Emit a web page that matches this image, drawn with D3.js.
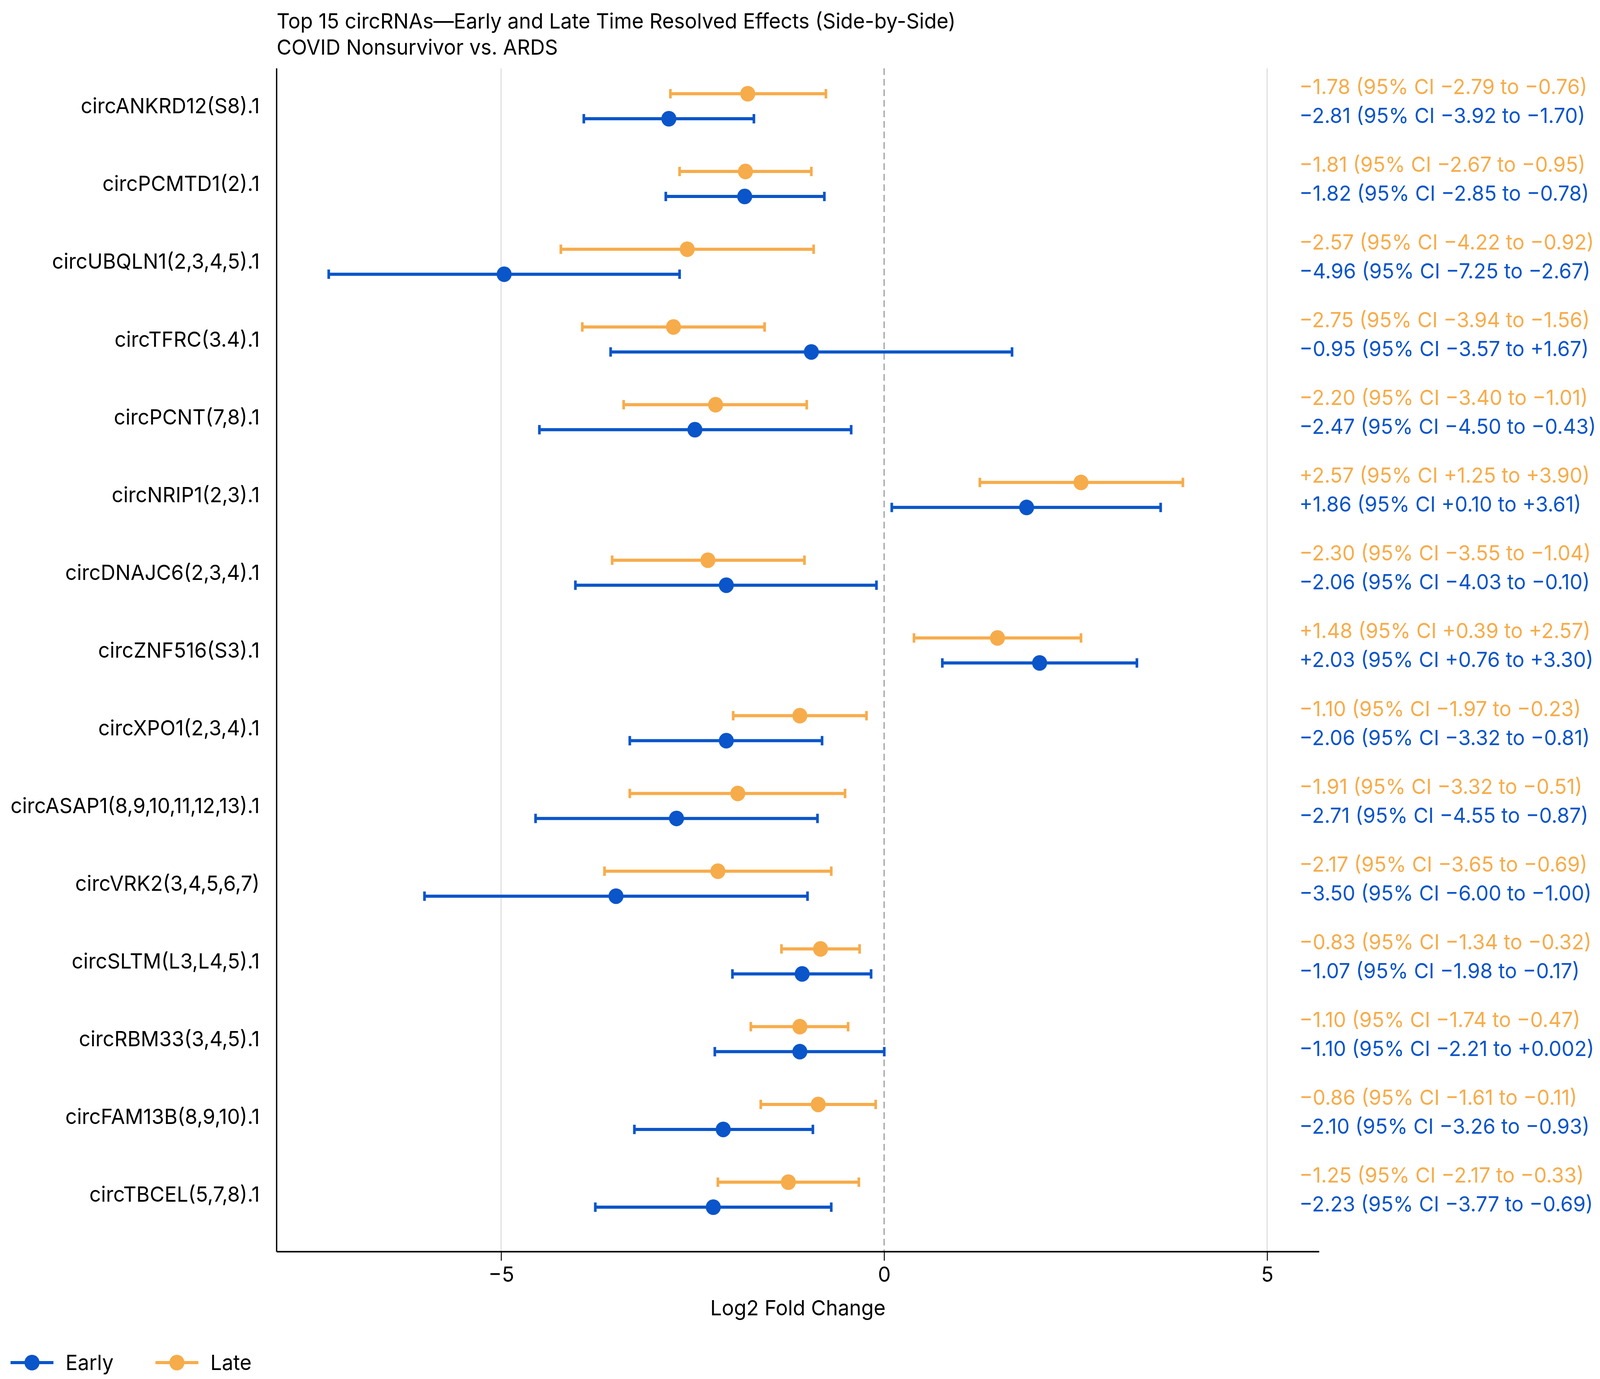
<!DOCTYPE html>
<html>
<head>
<meta charset="utf-8">
<script src="https://cdn.jsdelivr.net/npm/d3@7"></script>
<style>
  html, body { margin: 0; padding: 0; background: #fff; overflow: hidden; }
  svg { display: block; }
  text { font-family: Inter, "Liberation Sans", Arial, sans-serif; }
</style>
</head>
<body>
<div class="chart"></div>
<script>
var svgWidth = 4251;
var svgHeight = 3531;

var margin = { top: 175, right: 746, bottom: 326, left: 735 };
var chartWidth = svgWidth - margin.left - margin.right;
var chartHeight = svgHeight - margin.top - margin.bottom;

// data
var categories = [
  "circANKRD12(S8).1", "circPCMTD1(2).1", "circUBQLN1(2,3,4,5).1", "circTFRC(3.4).1",
  "circPCNT(7,8).1", "circNRIP1(2,3).1", "circDNAJC6(2,3,4).1", "circZNF516(S3).1",
  "circXPO1(2,3,4).1", "circASAP1(8,9,10,11,12,13).1", "circVRK2(3,4,5,6,7)",
  "circSLTM(L3,L4,5).1", "circRBM33(3,4,5).1", "circFAM13B(8,9,10).1", "circTBCEL(5,7,8).1"
];
var earlyEst = [-2.81, -1.82, -4.96, -0.95, -2.47, 1.86, -2.06, 2.03, -2.06, -2.71, -3.50, -1.07, -1.10, -2.10, -2.23];
var earlyLo  = [-3.92, -2.85, -7.25, -3.57, -4.50, 0.10, -4.03, 0.76, -3.32, -4.55, -6.00, -1.98, -2.21, -3.26, -3.77];
var earlyHi  = [-1.70, -0.78, -2.67, 1.67, -0.43, 3.61, -0.10, 3.30, -0.81, -0.87, -1.00, -0.17, 0.002, -0.93, -0.69];
var lateEst  = [-1.78, -1.81, -2.57, -2.75, -2.20, 2.57, -2.30, 1.48, -1.10, -1.91, -2.17, -0.83, -1.10, -0.86, -1.25];
var lateLo   = [-2.79, -2.67, -4.22, -3.94, -3.40, 1.25, -3.55, 0.39, -1.97, -3.32, -3.65, -1.34, -1.74, -1.61, -2.17];
var lateHi   = [-0.76, -0.95, -0.92, -1.56, -1.01, 3.90, -1.04, 2.57, -0.23, -0.51, -0.69, -0.32, -0.47, -0.11, -0.33];
var xTicks = [-5, 0, 5];

var earlyColor = "#0a55c9";
var lateColor = "#f7ac4b";
var fontSize = 54;

function fmt(v) {
  var a = Math.abs(v);
  var s = a < 0.01 && a > 0 ? a.toFixed(3) : a.toFixed(2);
  return (v < 0 ? "\u2212" : "+") + s;
}

var early = categories.map(function(c, i) {
  return { cat: c, est: earlyEst[i], lo: earlyLo[i], hi: earlyHi[i] };
});
var late = categories.map(function(c, i) {
  return { cat: c, est: lateEst[i], lo: lateLo[i], hi: lateHi[i] };
});

// fill the whole window with the 4251x3531 drawing
var svg = d3.select(".chart")
  .append("svg")
  .attr("viewBox", `0 0 ${svgWidth} ${svgHeight}`)
  .attr("preserveAspectRatio", "none")
  .style("width", "100vw")
  .style("height", "100vh");

svg.append("rect").attr("width", svgWidth).attr("height", svgHeight).attr("fill", "#fff");

var chartGroup = svg.append("g")
  .attr("transform", `translate(${margin.left}, ${margin.top})`);

//scales
var xScale = d3.scaleLinear()
  .domain([-7.93, 5.68])
  .range([0, chartWidth]);

var yScale = d3.scalePoint()
  .domain(categories)
  .range([97, chartHeight - 146]);

var offset = 32;

// grid lines at +-5
chartGroup.selectAll(".grid")
  .data(xTicks.filter(d => d !== 0))
  .enter()
  .append("line")
  .attr("x1", d => xScale(d))
  .attr("x2", d => xScale(d))
  .attr("y1", 0)
  .attr("y2", chartHeight)
  .attr("stroke", "#dedede")
  .attr("stroke-width", 3);

// zero reference
chartGroup.append("line")
  .attr("x1", xScale(0))
  .attr("x2", xScale(0))
  .attr("y1", 0)
  .attr("y2", chartHeight)
  .attr("stroke", "#9a9a9a")
  .attr("stroke-width", 3)
  .attr("stroke-dasharray", "17,10");

// axes
var bottomAxis = d3.axisBottom(xScale)
  .tickValues(xTicks)
  .tickSize(23)
  .tickPadding(16)
  .tickFormat(d => d < 0 ? "\u2212" + Math.abs(d) : d);

var xAxisG = chartGroup.append("g")
  .attr("transform", `translate(0, ${chartHeight})`)
  .call(bottomAxis);
xAxisG.select(".domain").remove();
xAxisG.selectAll(".tick line").attr("stroke", "#000").attr("stroke-width", 2.5);
xAxisG.selectAll(".tick text")
  .attr("font-size", fontSize)
  .attr("fill", "#000")
  .attr("font-family", "Inter, Liberation Sans, Arial, sans-serif");

chartGroup.append("line")
  .attr("x1", 0).attr("x2", chartWidth)
  .attr("y1", chartHeight).attr("y2", chartHeight)
  .attr("stroke", "#000").attr("stroke-width", 4);

chartGroup.append("line")
  .attr("x1", 0).attr("x2", 0)
  .attr("y1", 0).attr("y2", chartHeight)
  .attr("stroke", "#000").attr("stroke-width", 3.5);

// category labels
chartGroup.selectAll(".catLabel")
  .data(categories)
  .enter()
  .append("text")
  .attr("x", -45)
  .attr("y", d => yScale(d))
  .attr("dy", "0.34em")
  .attr("text-anchor", "end")
  .attr("font-size", fontSize)
  .attr("fill", "#000")
  .text(d => d);

// error bars + points
function drawSeries(data, dy, color) {
  var g = chartGroup.append("g");
  g.selectAll(".bar")
    .data(data)
    .enter()
    .append("line")
    .attr("x1", d => xScale(d.lo))
    .attr("x2", d => xScale(d.hi))
    .attr("y1", d => yScale(d.cat) + dy)
    .attr("y2", d => yScale(d.cat) + dy)
    .attr("stroke", color)
    .attr("stroke-width", 8);
  ["lo", "hi"].forEach(function(k) {
    g.selectAll(".cap-" + k)
      .data(data)
      .enter()
      .append("line")
      .attr("x1", d => xScale(d[k]))
      .attr("x2", d => xScale(d[k]))
      .attr("y1", d => yScale(d.cat) + dy - 12)
      .attr("y2", d => yScale(d.cat) + dy + 12)
      .attr("stroke", color)
      .attr("stroke-width", 7);
  });
  g.selectAll("circle")
    .data(data)
    .enter()
    .append("circle")
    .attr("cx", d => xScale(d.est))
    .attr("cy", d => yScale(d.cat) + dy)
    .attr("r", 20)
    .attr("fill", color);
}
drawSeries(late, -offset, lateColor);
drawSeries(early, offset, earlyColor);

// estimate annotations
var annoX = 3452 - margin.left;
chartGroup.selectAll(".annoLate")
  .data(late)
  .enter()
  .append("text")
  .attr("x", annoX)
  .attr("y", d => yScale(d.cat) - 31)
  .attr("font-size", fontSize)
  .attr("fill", lateColor)
  .text(d => `${fmt(d.est)} (95% CI ${fmt(d.lo)} to ${fmt(d.hi)})`);

chartGroup.selectAll(".annoEarly")
  .data(early)
  .enter()
  .append("text")
  .attr("x", annoX)
  .attr("y", d => yScale(d.cat) + 43)
  .attr("font-size", fontSize)
  .attr("fill", earlyColor)
  .text(d => `${fmt(d.est)} (95% CI ${fmt(d.lo)} to ${fmt(d.hi)})`);

// axis label
chartGroup.append("text")
  .attr("x", chartWidth / 2)
  .attr("y", chartHeight + 163)
  .attr("text-anchor", "middle")
  .attr("font-size", fontSize)
  .text("Log2 Fold Change");

// title
svg.append("text")
  .attr("x", margin.left)
  .attr("y", 73)
  .attr("font-size", fontSize)
  .text("Top 15 circRNAs\u2014Early and Late Time Resolved Effects (Side-by-Side)");
svg.append("text")
  .attr("x", margin.left)
  .attr("y", 140)
  .attr("font-size", fontSize)
  .text("COVID Nonsurvivor vs. ARDS");

// legend
var legendItems = [
  { name: "Early", color: earlyColor, x: 28 },
  { name: "Late", color: lateColor, x: 413 }
];
var legendY = 3489;
var legend = svg.selectAll(".legend")
  .data(legendItems)
  .enter()
  .append("g")
  .attr("transform", d => `translate(${d.x}, ${legendY})`);
legend.append("line")
  .attr("x1", 0).attr("x2", 114)
  .attr("stroke", d => d.color)
  .attr("stroke-width", 8);
legend.append("circle")
  .attr("cx", 57)
  .attr("r", 20)
  .attr("fill", d => d.color);
legend.append("text")
  .attr("x", 146)
  .attr("y", 19)
  .attr("font-size", fontSize)
  .text(d => d.name);
</script>
</body>
</html>
